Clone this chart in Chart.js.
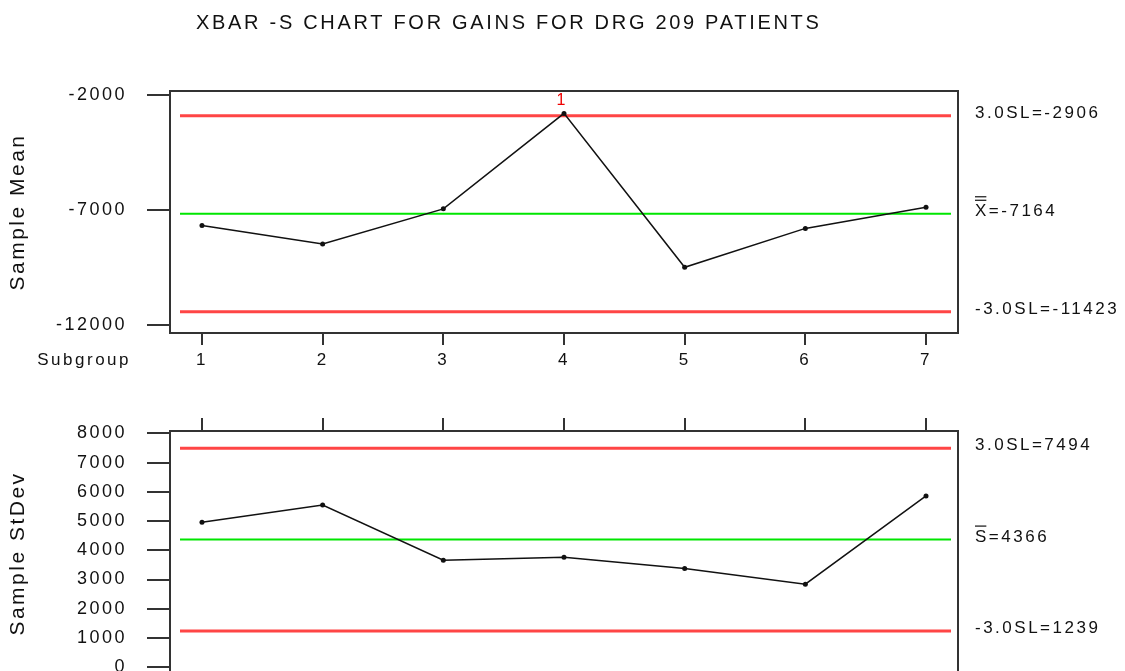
<!DOCTYPE html>
<html>
<head>
<meta charset="utf-8">
<script src="https://cdn.jsdelivr.net/npm/chart.js@4.4.1/dist/chart.umd.min.js"></script>
<style>
  html, body { margin: 0; padding: 0; background: #fff; width: 1125px; height: 671px; overflow: hidden; }
  canvas { position: absolute; left: 0; }
  #meanChart { top: 0; width: 1125px; height: 400px; }
  #sdChart { top: 400px; width: 1125px; height: 280px; }
</style>
</head>
<body>
<canvas id="meanChart" width="1125" height="400"></canvas>
<canvas id="sdChart" width="1125" height="280"></canvas>
<script>
// Subgroup numbers and the statistic of each subgroup
const SUBGROUPS = [1, 2, 3, 4, 5, 6, 7];
const SAMPLE_MEANS = [-7670, -8480, -6950, -2800, -9490, -7800, -6880];
const SAMPLE_STDEVS = [4960, 5550, 3660, 3760, 3380, 2840, 5860];

// Control limits: upper, centre, lower
const MEAN_LIMITS = [-2906, -7164, -11423];
const STDEV_LIMITS = [7494, 4366, 1239];

// Axis tick values
const MEAN_TICKS = [-2000, -7000, -12000];
const STDEV_TICKS = [0, 1000, 2000, 3000, 4000, 5000, 6000, 7000, 8000];

const TITLE = 'XBAR -S CHART FOR GAINS FOR DRG 209 PATIENTS';
const FONT = '"Liberation Sans", Arial, sans-serif';
const INK = '#111';
const FRAME = '#333';
const RED = '#ff4545';
const GREEN = '#00e600';
const SPACING = '2.5px';

Chart.defaults.font.family = FONT;
Chart.defaults.color = INK;

// Wide letter spacing for all chart text
const spacingPlugin = {
  id: 'letterSpacing',
  beforeDraw(chart) { chart.ctx.letterSpacing = SPACING; }
};

// Control limit lines, the frame and the limit captions at the right
const limitPlugin = {
  id: 'controlLimits',
  beforeDatasetsDraw(chart, args, opts) {
    const { ctx, chartArea: a, scales: { y } } = chart;
    ctx.save();
    opts.values.forEach((v, i) => {
      const py = y.getPixelForValue(v);
      ctx.strokeStyle = i === 1 ? GREEN : RED;
      ctx.lineWidth = i === 1 ? 2 : 3;
      ctx.beginPath();
      ctx.moveTo(a.left + 10, py);
      ctx.lineTo(a.right - 7, py);
      ctx.stroke();
    });
    ctx.restore();
  },
  afterDraw(chart, args, opts) {
    const { ctx, chartArea: a, scales: { y } } = chart;
    ctx.save();
    ctx.strokeStyle = FRAME;
    ctx.lineWidth = 2;
    ctx.strokeRect(a.left, a.top, a.right - a.left, a.bottom - a.top);

    ctx.letterSpacing = SPACING;
    ctx.font = '17px ' + FONT;
    ctx.fillStyle = INK;
    ctx.textAlign = 'left';
    ctx.textBaseline = 'middle';
    const tx = a.right + 17;
    opts.values.forEach((v, i) => {
      const py = y.getPixelForValue(v) - 2.5;
      let text;
      if (i === 0) text = '3.0SL=' + v;
      else if (i === 2) text = '-3.0SL=' + v;
      else text = opts.symbol + '=' + v;
      ctx.fillText(text, tx, py);
      if (i === 1) {
        // overbar(s) on the centre-line symbol
        const w = ctx.measureText(opts.symbol).width - 2.5;
        ctx.strokeStyle = INK;
        ctx.lineWidth = 1.2;
        for (let k = 0; k < opts.bars; k++) {
          const by = py - 11 - k * 3.5;
          ctx.beginPath();
          ctx.moveTo(tx, by);
          ctx.lineTo(tx + w, by);
          ctx.stroke();
        }
      }
    });
    ctx.restore();
  }
};

// Title, subgroup caption and the out-of-control flag on the means chart
const meanExtras = {
  id: 'meanExtras',
  afterDraw(chart) {
    const { ctx, scales: { x, y } } = chart;
    ctx.save();
    ctx.letterSpacing = '2.7px';
    ctx.fillStyle = INK;
    ctx.textBaseline = 'middle';
    ctx.textAlign = 'left';
    ctx.font = '20px ' + FONT;
    ctx.fillText(TITLE, 196, 23);

    ctx.letterSpacing = SPACING;
    ctx.textAlign = 'right';
    ctx.font = '17px ' + FONT;
    ctx.fillText('Subgroup', 131, 360);

    ctx.letterSpacing = '0px';
    ctx.fillStyle = '#ee0000';
    ctx.font = '16px ' + FONT;
    ctx.textAlign = 'center';
    ctx.textBaseline = 'bottom';
    SAMPLE_MEANS.forEach((v, i) => {
      if (v > MEAN_LIMITS[0]) {
        ctx.fillText('1', x.getPixelForValue(SUBGROUPS[i]) - 3, y.getPixelForValue(v) - 5);
      }
    });
    ctx.restore();
  }
};

function seriesPoints(values) {
  return SUBGROUPS.map((s, i) => ({ x: s, y: values[i] }));
}

function lineDataset(values) {
  return {
    data: seriesPoints(values),
    borderColor: INK,
    borderWidth: 1.5,
    pointRadius: 2.5,
    pointBackgroundColor: INK,
    pointBorderWidth: 0,
    tension: 0
  };
}

const tickGrid = (len) => ({
  drawOnChartArea: false,
  drawTicks: true,
  tickLength: len,
  color: FRAME,
  lineWidth: 2
});

// Fixed axis sizes, without extra room for overhanging labels
const fixWidth = w => s => { s.width = w; s.paddingTop = 0; s.paddingBottom = 0; };
const fixHeight = h => s => { s.height = h; s.paddingLeft = 0; s.paddingRight = 0; };

const commonOptions = {
  responsive: false,
  maintainAspectRatio: false,
  animation: false,
  events: [],
  plugins: { legend: { display: false }, tooltip: { enabled: false }, title: { display: false } }
};

new Chart(document.getElementById('meanChart'), {
  type: 'line',
  data: { datasets: [lineDataset(SAMPLE_MEANS)] },
  plugins: [spacingPlugin, limitPlugin, meanExtras],
  options: {
    ...commonOptions,
    layout: { padding: { left: 0, right: 167, top: 91, bottom: 0 } },
    plugins: {
      ...commonOptions.plugins,
      controlLimits: { values: MEAN_LIMITS, symbol: 'X', bars: 2 }
    },
    scales: {
      x: {
        type: 'linear',
        min: 0.735,
        max: 7.265,
        position: 'bottom',
        afterBuildTicks: s => { s.ticks = SUBGROUPS.map(v => ({ value: v })); },
        afterFit: fixHeight(67),
        grid: tickGrid(12),
        border: { display: false },
        ticks: { font: { size: 17 }, color: INK, padding: 5, maxRotation: 0, autoSkip: false, callback: v => String(v) }
      },
      y: {
        min: -12348,
        max: -1826,
        afterBuildTicks: s => { s.ticks = MEAN_TICKS.map(v => ({ value: v })); },
        afterFit: fixWidth(170),
        grid: tickGrid(23),
        border: { display: false },
        ticks: { font: { size: 18 }, color: INK, padding: 20, autoSkip: false, callback: v => String(v) },
        title: { display: true, text: 'Sample Mean', font: { size: 21 }, color: INK, padding: { top: 6, bottom: 0 } }
      }
    }
  }
});

new Chart(document.getElementById('sdChart'), {
  type: 'line',
  data: { datasets: [lineDataset(SAMPLE_STDEVS)] },
  plugins: [spacingPlugin, limitPlugin],
  options: {
    ...commonOptions,
    layout: { padding: { left: 0, right: 167, top: 0, bottom: 0 } },
    plugins: {
      ...commonOptions.plugins,
      controlLimits: { values: STDEV_LIMITS, symbol: 'S', bars: 1 }
    },
    scales: {
      x: {
        type: 'linear',
        min: 0.735,
        max: 7.265,
        position: 'top',
        afterBuildTicks: s => { s.ticks = SUBGROUPS.map(v => ({ value: v })); },
        afterFit: fixHeight(31),
        grid: tickGrid(13),
        border: { display: false },
        ticks: { display: false }
      },
      y: {
        min: -300,
        max: 8080,
        afterBuildTicks: s => { s.ticks = STDEV_TICKS.map(v => ({ value: v })); },
        afterFit: fixWidth(170),
        grid: tickGrid(23),
        border: { display: false },
        ticks: { font: { size: 18 }, color: INK, padding: 20, autoSkip: false, callback: v => String(v) },
        title: { display: true, text: 'Sample StDev', font: { size: 21 }, color: INK, padding: { top: 6, bottom: 0 } }
      }
    }
  }
});
</script>
</body>
</html>
